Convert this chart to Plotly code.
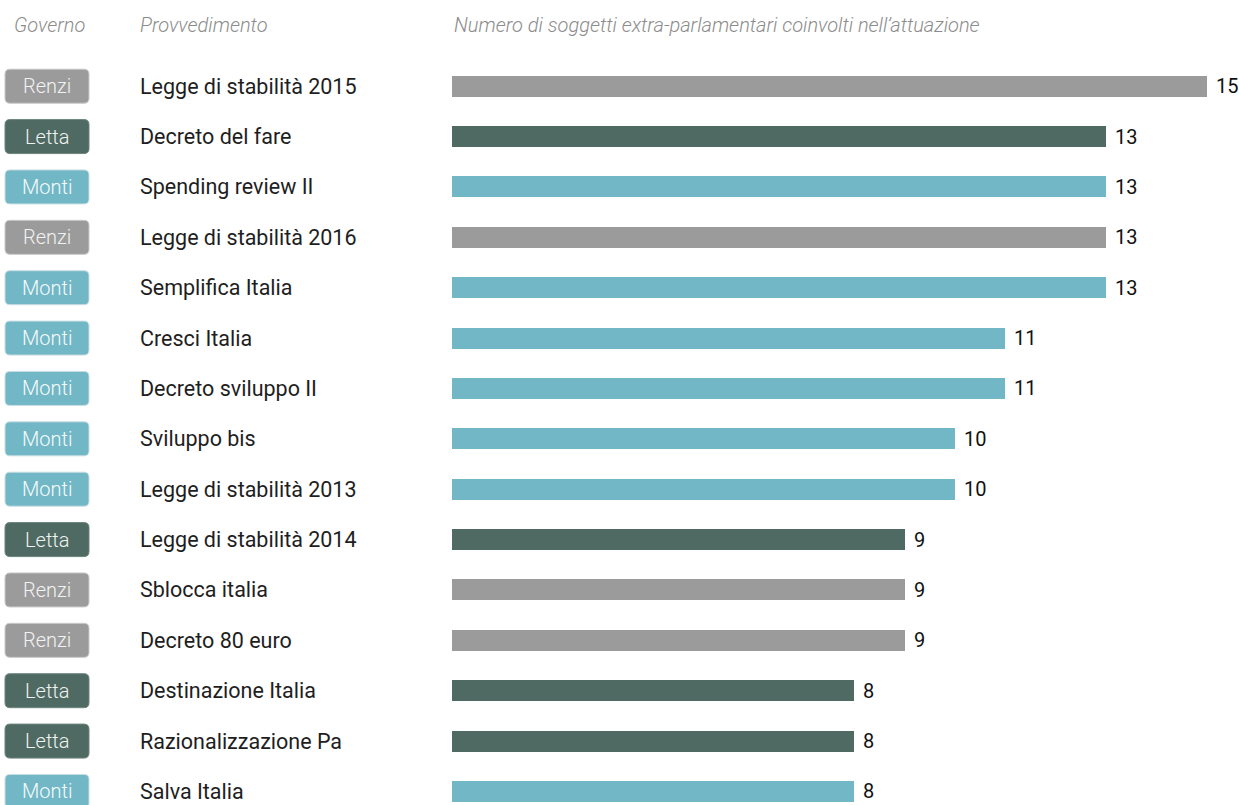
import plotly.graph_objects as go

# --- data -------------------------------------------------------------
governi = ["Renzi", "Letta", "Monti", "Renzi", "Monti", "Monti", "Monti", "Monti",
           "Monti", "Letta", "Renzi", "Renzi", "Letta", "Letta", "Monti"]
provvedimenti = ["Legge di stabilità 2015", "Decreto del fare", "Spending review II",
                 "Legge di stabilità 2016", "Semplifica Italia", "Cresci Italia",
                 "Decreto sviluppo II", "Sviluppo bis", "Legge di stabilità 2013",
                 "Legge di stabilità 2014", "Sblocca italia", "Decreto 80 euro",
                 "Destinazione Italia", "Razionalizzazione Pa", "Salva Italia"]
soggetti = [15, 13, 13, 13, 13, 11, 11, 10, 10, 9, 9, 9, 8, 8, 8]

intestazioni = ["Governo", "Provvedimento",
                "Numero di soggetti extra-parlamentari coinvolti nell\u2019attuazione"]

# --- styling ----------------------------------------------------------
W, H = 1239, 805
FONT = "Roboto"
colori = {"Renzi": "#9b9b9b", "Letta": "#4f6a62", "Monti": "#72b7c6"}
bordi = {"Renzi": "#c9c9c9", "Letta": "#6d857e", "Monti": "#c8dde2"}
testo_badge = {"Renzi": "#f2f2f2", "Letta": "#eef2f1", "Monti": "#f7fbfc"}

ROW_PX = 50.375          # pixels per row
ROW0_PX = 86.2           # centre of first row from the top
ZERO_PX = 452            # pixel of value 0
UNIT_PX = 50.3           # pixels per unit of value

y_top = -ROW0_PX / ROW_PX
y_bottom = y_top + H / ROW_PX
x_left = -ZERO_PX / UNIT_PX
x_right = x_left + W / UNIT_PX

righe = list(range(len(provvedimenti)))

fig = go.Figure(
    go.Bar(
        x=soggetti,
        y=righe,
        orientation="h",
        width=21 / ROW_PX,
        marker=dict(color=[colori[g] for g in governi], line=dict(width=0)),
        hoverinfo="skip",
    )
)

shapes = []
annotations = []

# column headers
header_x = [12, 138, 452]
for hx, txt in zip(header_x, intestazioni):
    annotations.append(dict(
        x=hx / W, y=1 - 25 / H, xref="paper", yref="paper",
        text=f"<i>{txt}</i>", showarrow=False, xanchor="left", yanchor="middle",
        font=dict(family=FONT, size=20, color="#8c8c8c", weight=300),
    ))

# rounded badges for the government
bx0, bx1 = 5 / W, 89 / W
half_h = 17 / ROW_PX
rx, ry = 5 / W, 5 / ROW_PX
for i, g in zip(righe, governi):
    y0, y1 = i - half_h, i + half_h
    path = (f"M {bx0 + rx},{y0} L {bx1 - rx},{y0} Q {bx1},{y0} {bx1},{y0 + ry} "
            f"L {bx1},{y1 - ry} Q {bx1},{y1} {bx1 - rx},{y1} "
            f"L {bx0 + rx},{y1} Q {bx0},{y1} {bx0},{y1 - ry} "
            f"L {bx0},{y0 + ry} Q {bx0},{y0} {bx0 + rx},{y0} Z")
    shapes.append(dict(type="path", xref="paper", yref="y", path=path,
                       fillcolor=colori[g], line=dict(color=bordi[g], width=1),
                       layer="above"))
    annotations.append(dict(
        x=(bx0 + bx1) / 2, y=i, xref="paper", yref="y", text=g, showarrow=False,
        xanchor="center", yanchor="middle",
        font=dict(family=FONT, size=20, color=testo_badge[g], weight=300),
    ))

# measure names
for i, p in zip(righe, provvedimenti):
    annotations.append(dict(
        x=138 / W, y=i, xref="paper", yref="y", text=p, showarrow=False,
        xanchor="left", yanchor="middle",
        font=dict(family=FONT, size=21.5, color="#1e1e1e"),
    ))

# value labels at bar ends
for i, v in zip(righe, soggetti):
    annotations.append(dict(
        x=v, y=i, xref="x", yref="y", text=str(v), showarrow=False,
        xanchor="left", yanchor="middle", xshift=7,
        font=dict(family=FONT, size=20, color="#111111"),
    ))

fig.update_layout(
    width=W, height=H,
    margin=dict(l=0, r=0, t=0, b=0, pad=0),
    paper_bgcolor="white", plot_bgcolor="white",
    showlegend=False,
    xaxis=dict(range=[x_left, x_right], visible=False, fixedrange=True),
    yaxis=dict(range=[y_bottom, y_top], visible=False, fixedrange=True),
    shapes=shapes,
    annotations=annotations,
    bargap=0,
)

fig.write_html("out.html", config={"displayModeBar": False})
